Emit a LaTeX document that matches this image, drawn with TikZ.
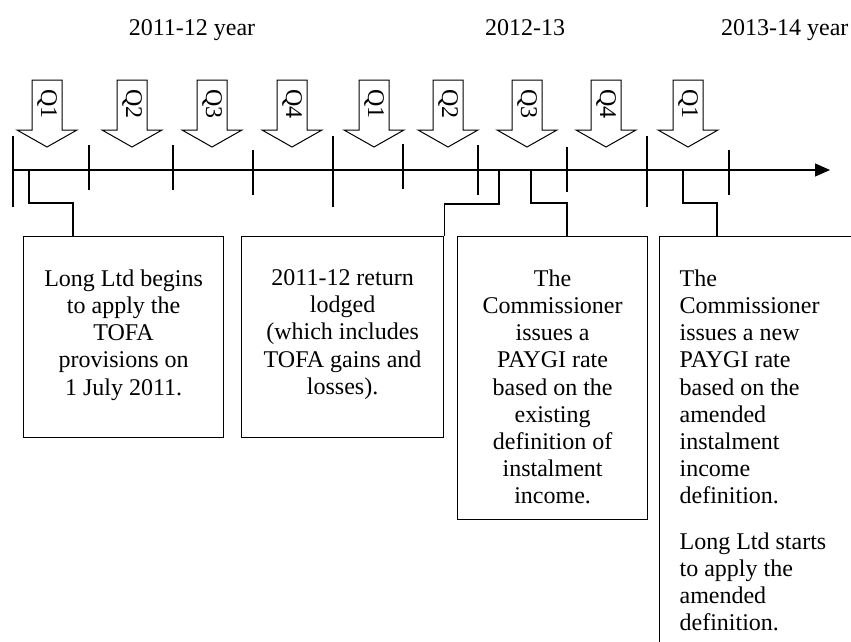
\documentclass[tikz,border=0pt]{standalone}
\usepackage{fontspec}
\setmainfont{Liberation Serif}
\usetikzlibrary{arrows.meta}

\begin{document}
\begin{tikzpicture}[x=1pt,y=-1pt,line width=1.2pt,>={Triangle[length=15pt,width=13pt]},
	every node/.style={font=\fontsize{24}{27.2}\selectfont,inner sep=0pt},
	qarrow/.style={draw,line width=1pt},
	evbox/.style={draw,anchor=north west},
	boxtext/.style={align=center,anchor=north}]
	\useasboundingbox (0,0) rectangle (851,642);
	\clip (0,0) rectangle (851,642);
	% years
	\node[anchor=base] (y1) at (192,36) {2011-12 year};
	\node[anchor=base] (y2) at (525,36) {2012-13};
	\node[anchor=base east] (y3) at (849,36) {2013-14 year};
	% time line
	\draw[->] (13,170) coordinate (t0) -- (830,170) coordinate (tend);
	\foreach \x/\a/\b in {13/136/207,89/145/190,173/145/190,253/150/195,333/136/207,403/144/189,478/145/195,567/147/192,647/136/207,729/150/195}\draw (\x,\a)--(\x,\b);
	% quarters
	\foreach \c/\q [count=\i] in {47/Q1,132/Q2,212/Q3,292/Q4,374/Q1,448/Q2,527/Q3,606/Q4,688/Q1}{
		\draw[qarrow] (\c-15,80) -- (\c+15,80) -- (\c+15,130) -- (\c+30,130) -- (\c,147) -- (\c-30,130) -- (\c-15,130) -- cycle;
		\node[rotate=-90] (q\i) at (\c,104) {\q};
	}
	% events
	\node[evbox,minimum width=200pt,minimum height=201pt] (b1) at (23,236) {};
	\node[boxtext] (b1t) at ([yshift=-33pt]b1.north) {Long Ltd begins\\to apply the\\TOFA\\provisions on\\1 July 2011.};
	\node[evbox,minimum width=202pt,minimum height=201pt] (b2) at (241,236) {};
	\node[boxtext] (b2t) at ([yshift=-33pt]b2.north) {2011-12 return\\lodged\\(which includes\\TOFA gains and\\losses).};
	\node[evbox,minimum width=190pt,minimum height=283pt] (b3) at (457,236) {};
	\node[boxtext] (b3t) at ([yshift=-33pt]b3.north) {The\\Commissioner\\issues a\\PAYGI rate\\based on the\\existing\\definition of\\instalment\\income.};
	\node[evbox,minimum width=230pt,minimum height=450pt] (b4) at (659,236) {};
	\node[align=left,anchor=north west] (b4t) at ([xshift=20pt,yshift=-33pt]b4.north west) {The\\Commissioner\\issues a new\\PAYGI rate\\based on the\\amended\\instalment\\income\\definition.\\[18pt]Long Ltd starts\\to apply the\\amended\\definition.};
	% links to the time line
	\coordinate (e1) at (29,170);
	\coordinate (e2) at (499,170);
	\coordinate (e3) at (531,170);
	\coordinate (e4) at (683,170);
	\draw (e1) -- ++(0,33) -| ([xshift=50pt]b1.north west);
	\draw (e2) -- ++(0,34) -| (b2.north east);
	\draw (e3) -- ++(0,33) -| ([xshift=110pt]b3.north west);
	\draw (e4) -- ++(0,33) -| ([xshift=58pt]b4.north west);
\end{tikzpicture}
\end{document}
